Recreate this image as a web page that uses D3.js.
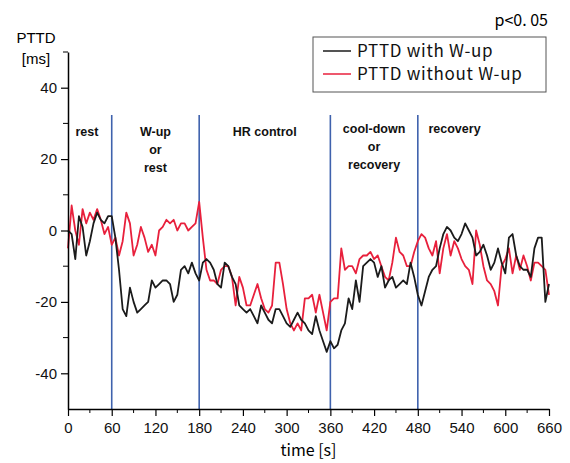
<!DOCTYPE html>
<html>
<head>
<meta charset="utf-8">
<script src="https://cdn.jsdelivr.net/npm/d3@7"></script>
<style>
  body { margin: 0; background: #fff; }
  svg { display: block; }
</style>
</head>
<body>
<div id="container"></div>
<script>
"use strict";

// time step between samples is 5 s
var step = 5;
var withWup = [0, -1, -8, 4, 1, -7, -3, 2, 5, 3, 2, 4, 4,
    -2, -11, -22, -24, -16, -20, -23, -22, -21, -20, -14, -16,
    -15, -14, -14, -15, -20, -18, -11, -10, -12, -9, -12, -14,
    -9, -8, -9, -11, -15, -16, -9, -10, -13, -15, -21, -22,
    -23, -22, -24, -26, -21, -23, -25, -26, -22, -22, -24, -26,
    -27, -25, -23, -25, -26, -28, -29, -24, -28, -31, -34, -31,
    -33, -32, -28, -26, -19, -22, -14, -20, -10, -9, -8, -9,
    -13, -10, -16, -14, -13, -16, -15, -14, -15, -9, -13, -18,
    -21, -17, -13, -11, -10, -5, -1, 1, 0, -2, -3, -1,
    2, 0, -2, -7, -6, -4, -7, -11, -9, -5, -9, -12,
    -2, -1, -7, -10, -11, -11, -13, -5, -2, -2, -20, -15];
var withoutWup = [-5, 7, 0, -4, 6, 2, 5, 3, 6, 3, -1, 1, -4,
    -2, -7, -3, 5, 2, -7, -4, 1, -2, -6, -4, -7,
    0, 1, 3, 2, 3, 0, 2, 2, 0, 1, 2, 8,
    -2, -11, -14, -14, -15, -11, -10, -10, -13, -21, -13, -16,
    -21, -21, -18, -15, -19, -22, -23, -21, -9, -9, -15, -22,
    -26, -28, -26, -28, -19, -19, -18, -23, -18, -23, -28, -20,
    -19, -19, -5, -11, -10, -10, -12, -8, -7, -7, -6, -8,
    -7, -10, -13, -14, -9, -2, -6, -7, -10, -10, -6, -3,
    -1, -2, -5, -7, -3, -12, -5, -1, -7, -3, -5, -8,
    -10, -11, -15, 0, -4, -10, -14, -15, -17, -21, -10, -8,
    -5, -12, -7, -11, -7, -10, -14, -9, -9, -10, -11, -18];

var seriesNames = ["PTTD with W-up", "PTTD without W-up"];
var seriesColors = ["#1b1b1b", "#e8203c"];
var xTicks = [0, 60, 120, 180, 240, 300, 360, 420, 480, 540, 600, 660];
var yTicks = [-40, -20, 0, 20, 40];
var phaseBounds = [60, 180, 360, 480];
var phaseLabels = [
    { t: 30, lines: ["rest"] },
    { t: 120, lines: ["W-up", "or", "rest"] },
    { t: 270, lines: ["HR control"] },
    { t: 420, lines: ["cool-down", "or", "recovery"] },
    { t: 540, lines: ["recovery"] }
];

var width = 570;
var height = 463;
var svg = d3.select("#container").append("svg")
    .attr("width", width).attr("height", height);

var x = d3.scaleLinear().domain([0, 660]).range([68, 549]);
var y = d3.scaleLinear().domain([-50, 50]).range([409, 52]);

// plain hyphen for negatives, like the original
var fmt = function (d) { return String(d); };

// phase separators
svg.selectAll("line.phase").data(phaseBounds).enter().append("line")
    .attr("class", "phase")
    .attr("x1", function (d) { return x(d); })
    .attr("x2", function (d) { return x(d); })
    .attr("y1", 115).attr("y2", y(-50))
    .attr("stroke", "#3f62ad").attr("stroke-width", 1.6);

// phase labels
phaseLabels.forEach(function (p, i) {
    var lx = x(p.t) + (i === 0 ? -3 : i === 4 ? -7 : 0);
    var tx = svg.append("text")
        .attr("y", i === 3 || i === 4 ? 133 : 136)
        .attr("text-anchor", "middle")
        .attr("font-family", "Liberation Sans, Arial, sans-serif")
        .attr("font-weight", "bold")
        .attr("font-size", 12.5)
        .attr("fill", "#111");
    p.lines.forEach(function (s, j) {
        tx.append("tspan").attr("x", lx)
            .attr("dy", j === 0 ? 0 : 18).text(s);
    });
});

// lines
var line = d3.line()
    .x(function (d, i) { return x(i * step); })
    .y(function (d) { return y(d); });

svg.append("path").datum(withoutWup)
    .attr("d", line).attr("fill", "none")
    .attr("stroke", seriesColors[1]).attr("stroke-width", 1.8)
    .attr("stroke-linejoin", "round");
svg.append("path").datum(withWup)
    .attr("d", line).attr("fill", "none")
    .attr("stroke", seriesColors[0]).attr("stroke-width", 1.8)
    .attr("stroke-linejoin", "round");

// axes
var xAxis = d3.axisBottom(x).tickValues(xTicks).tickFormat(fmt)
    .tickSize(7).tickPadding(6).tickSizeOuter(0);
var gx = svg.append("g").attr("transform", "translate(0," + y(-50) + ")").call(xAxis);
gx.append("g").selectAll("line").data(d3.range(30, 660, 60)).enter().append("line")
    .attr("x1", function (d) { return x(d); }).attr("x2", function (d) { return x(d); })
    .attr("y1", 0).attr("y2", 4).attr("stroke", "#000");

var yAxis = d3.axisLeft(y).tickValues(yTicks).tickFormat(fmt)
    .tickSize(7).tickPadding(4).tickSizeOuter(0);
var gy = svg.append("g").attr("transform", "translate(" + x(0) + ",0)").call(yAxis);
gy.append("g").selectAll("line").data([-30, -10, 10, 30, 50]).enter().append("line")
    .attr("y1", function (d) { return y(d); }).attr("y2", function (d) { return y(d); })
    .attr("x1", 0).attr("x2", -5).attr("stroke", "#000");

[gx, gy].forEach(function (g) {
    g.select(".domain").attr("stroke", "#000").attr("stroke-width", 1.5);
    g.selectAll(".tick line").attr("stroke", "#000").attr("stroke-width", 1.2);
    g.selectAll(".tick text")
        .attr("font-family", "Liberation Sans, Arial, sans-serif")
        .attr("font-size", 15).attr("fill", "#111");
});

// axis titles
svg.append("text").attr("x", 36).attr("y", 43).attr("text-anchor", "middle")
    .attr("font-family", "Liberation Sans, Arial, sans-serif").attr("font-size", 15)
    .text("PTTD");
svg.append("text").attr("x", 36).attr("y", 64).attr("text-anchor", "middle")
    .attr("font-family", "Liberation Sans, Arial, sans-serif").attr("font-size", 15)
    .text("[ms]");
svg.append("text").attr("x", x(330)).attr("y", 456).attr("text-anchor", "middle")
    .attr("font-family", "Noto Sans CJK JP, sans-serif").attr("font-size", 16)
    .text("time [s]");

svg.append("text").attr("x", 548).attr("y", 26).attr("text-anchor", "end")
    .attr("font-family", "Noto Sans CJK JP, sans-serif").attr("font-size", 16)
    .text("p<0. 05");

// legend
var lg = svg.append("g").attr("transform", "translate(313,37)");
lg.append("rect").attr("width", 233).attr("height", 55)
    .attr("fill", "#fff").attr("stroke", "#555").attr("stroke-width", 1);
seriesNames.forEach(function (n, i) {
    var yy = 14 + i * 23;
    lg.append("line").attr("x1", 10).attr("x2", 38).attr("y1", yy).attr("y2", yy)
        .attr("stroke", seriesColors[i]).attr("stroke-width", 1.5);
    lg.append("text").attr("x", 44).attr("y", yy + 6)
        .attr("font-family", "Noto Sans CJK JP, sans-serif").attr("font-size", 17)
        .attr("letter-spacing", 0.7)
        .attr("fill", "#111").text(n);
});
</script>
</body>
</html>
